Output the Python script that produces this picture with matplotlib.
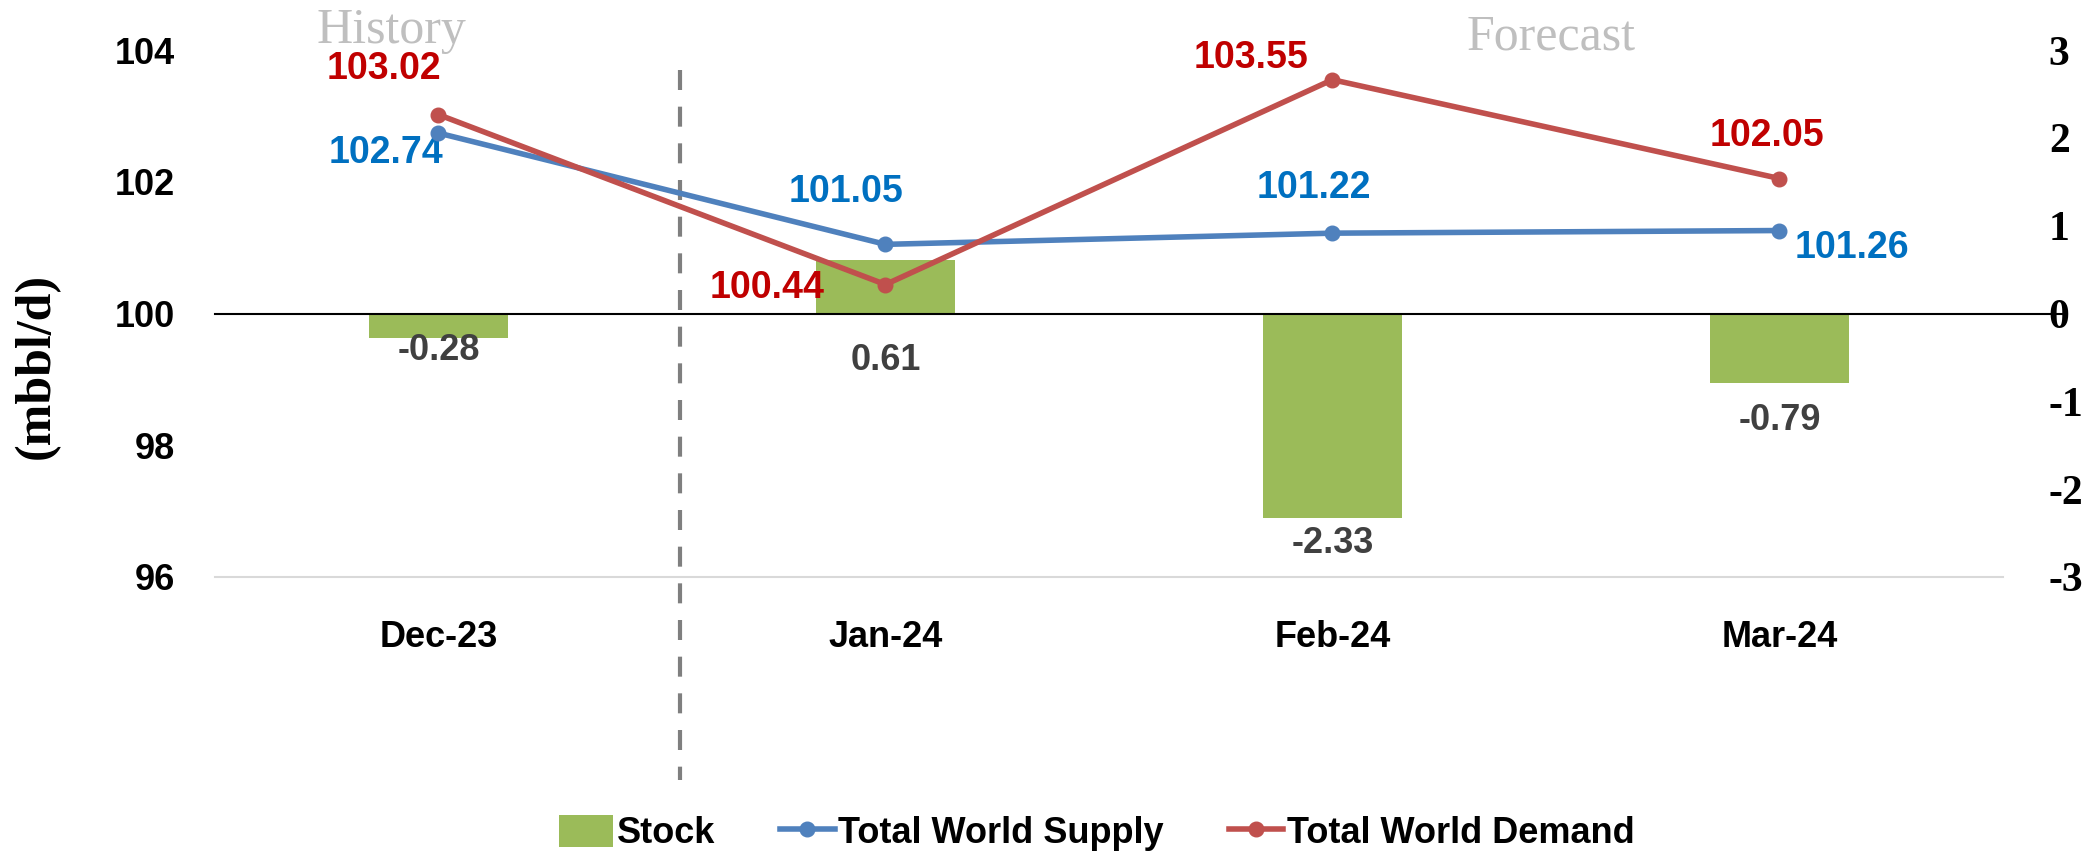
import matplotlib
matplotlib.use('Agg')
import matplotlib.pyplot as plt
from matplotlib.lines import Line2D
from matplotlib.patches import Patch

months = ['Dec-23', 'Jan-24', 'Feb-24', 'Mar-24']
supply = [102.74, 101.05, 101.22, 101.26]
demand = [103.02, 100.44, 103.55, 102.05]
stock = [-0.28, 0.61, -2.33, -0.79]
left_ticks = [96, 98, 100, 102, 104]
right_ticks = [-3, -2, -1, 0, 1, 2, 3]

# label offsets in pixels (dx, dy) relative to the point
supply_offsets = [(-52, -20), (-39, 52), (-19, 45), (73, -17)]
demand_offsets = [(-55, 46), (-118, -3), (-81, 22), (-12, 43)]
stock_offsets = [(0, -37), (0, -47), (0, -230), (0, -107)]

GREEN = '#9BBB59'
BLUE = '#4F81BD'
RED = '#C0504D'
SANS = ['Liberation Sans', 'DejaVu Sans']
SERIF = ['Liberation Serif', 'DejaVu Serif']
LW = 4
MS = 10.5

fig = plt.figure(figsize=(20.89, 8.56), dpi=100)
ax = fig.add_axes([0.1029, 0.326, 0.8559, 0.6155])
ax2 = ax.twinx()
ax.set_zorder(ax2.get_zorder() + 1)
ax.patch.set_visible(False)

x = list(range(len(months)))

# bars on the secondary axis
ax2.bar(x, stock, width=0.31, color=GREEN, zorder=2)
ax2.set_ylim(-3, 3)
ax2.set_yticks(right_ticks)
ax2.set_yticklabels([str(t) for t in right_ticks], family=SERIF,
                    fontweight='bold', fontsize=30)
ax2.tick_params(axis='y', length=0, pad=33)
ax2.plot([-0.5, 3.64], [0, 0], color='black', linewidth=1.5,
         clip_on=False, zorder=3)
for i, v in enumerate(stock):
    ax2.annotate(f'{v:.2f}', (i, 0), xytext=stock_offsets[i],
                 textcoords='offset pixels', ha='center', va='center',
                 fontsize=26, fontweight='bold', color='#404040',
                 family=SANS)

# lines on the primary axis
ax.plot(x, supply, color=BLUE, linewidth=LW, marker='o', markersize=MS,
        zorder=4)
ax.plot(x, demand, color=RED, linewidth=LW, marker='o', markersize=MS,
        zorder=5)
for i, v in enumerate(supply):
    ax.annotate(f'{v:.2f}', (i, v), xytext=supply_offsets[i],
                textcoords='offset pixels', ha='center', va='center',
                fontsize=27, fontweight='bold', color='#0070C0',
                family=SANS)
for i, v in enumerate(demand):
    ax.annotate(f'{v:.2f}', (i, v), xytext=demand_offsets[i],
                textcoords='offset pixels', ha='center', va='center',
                fontsize=27, fontweight='bold', color='#C00000',
                family=SANS)

ax.set_xlim(-0.5, 3.5)
ax.set_ylim(96, 104)
ax.set_yticks(left_ticks)
ax.set_yticklabels([str(t) for t in left_ticks], family=SANS,
                   fontweight='bold', fontsize=26)
ax.set_xticks(x)
ax.set_xticklabels(months, family=SANS, fontweight='bold', fontsize=26)
ax.tick_params(axis='y', length=0, pad=29)
ax.tick_params(axis='x', length=0, pad=31)

for a in (ax, ax2):
    for side in ('top', 'left', 'right', 'bottom'):
        a.spines[side].set_visible(False)
ax.spines['bottom'].set_visible(True)
ax.spines['bottom'].set_color('#D9D9D9')
ax.spines['bottom'].set_linewidth(1.5)

ax.set_ylabel('(mbbl/d)', family=SERIF, fontweight='bold', fontsize=36)
ax.yaxis.set_label_coords(-0.0867, 0.40)

# history / forecast separator
ax.plot([0.54, 0.54], [103.7, 92.92], color='#7F7F7F', linewidth=3,
        linestyle=(0, (4.8, 4)), clip_on=False, zorder=1)
ax.text(-0.106, 104.1, 'History', ha='center', va='baseline',
        family=SERIF, fontsize=36, color='#BFBFBF', clip_on=False)
ax.text(2.49, 104.01, 'Forecast', ha='center', va='baseline',
        family=SERIF, fontsize=36, color='#BFBFBF', clip_on=False)

handles = [
    Patch(facecolor=GREEN, label='Stock'),
    Line2D([], [], color=BLUE, linewidth=LW, marker='o', markersize=MS,
           label='Total World Supply'),
    Line2D([], [], color=RED, linewidth=LW, marker='o', markersize=MS,
           label='Total World Demand'),
]
fig.legend(handles=handles, loc='center', bbox_to_anchor=(0.525, 0.027),
           ncol=3, frameon=False, handlelength=1.5, handleheight=1.0,
           handletextpad=0.1, columnspacing=1.8,
           prop={'family': SANS, 'weight': 'bold', 'size': 26})

fig.savefig('out.png', dpi=100, facecolor='white')
